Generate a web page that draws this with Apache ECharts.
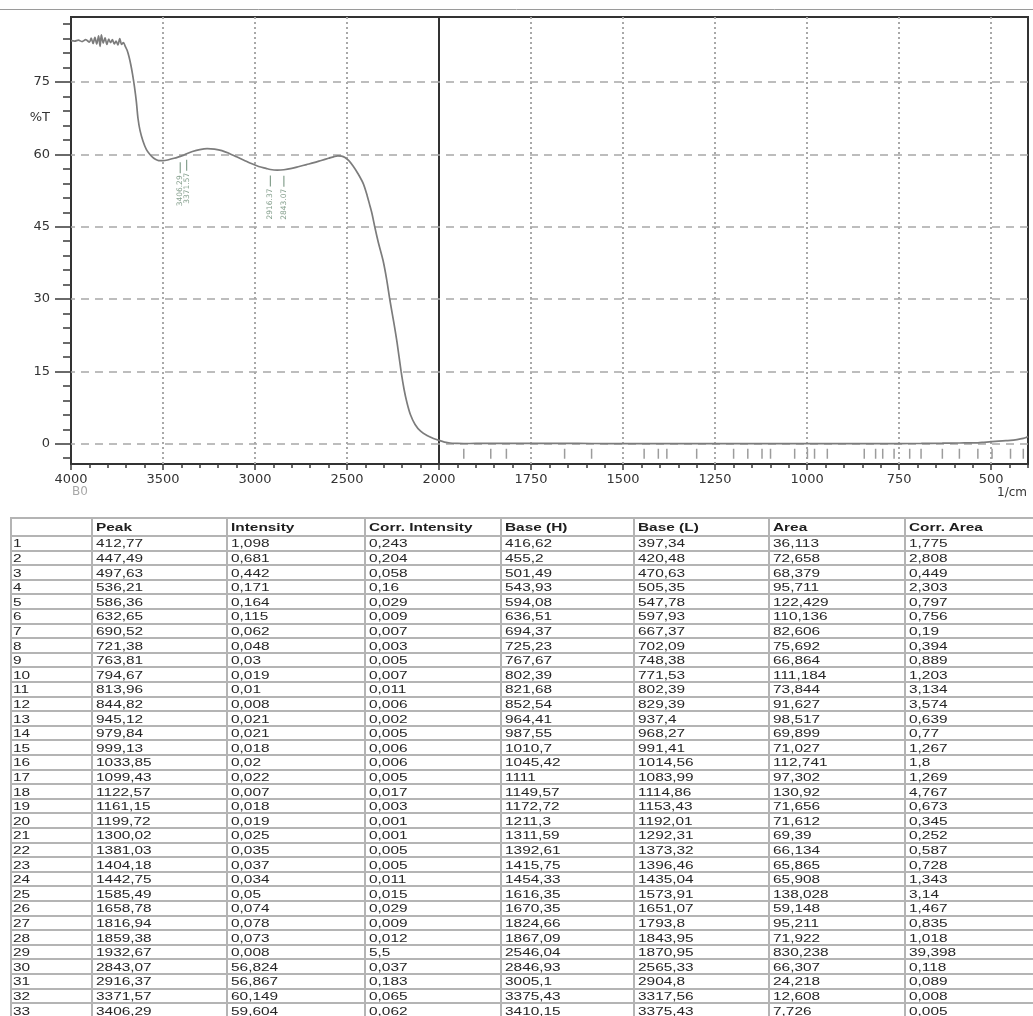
<!DOCTYPE html>
<html><head><meta charset="utf-8">
<script src="https://cdn.jsdelivr.net/npm/echarts@6/dist/echarts.min.js"></script>
<style>
html,body{margin:0;padding:0;background:#fff;width:1033px;height:1016px;overflow:hidden;position:relative;font-family:'Liberation Sans',Arial,sans-serif;}
#chart{position:absolute;left:0;top:0;width:1033px;height:512px;}
#tbl{position:absolute;left:0;top:0;width:1033px;height:1016px;pointer-events:none;}
.hl{position:absolute;height:2px;background:#b4b4b4;}
.vl{position:absolute;width:2px;background:#b4b4b4;}
.cell{position:absolute;font-size:11px;color:#262626;white-space:nowrap;line-height:14px;height:14px;transform:scaleX(1.4);transform-origin:0 50%;}
.hd{font-weight:bold;color:#1e1e1e;}
</style></head>
<body>
<div id="chart"></div>
<div id="tbl"></div>
<script>
// ---------- spectrum ----------
const leftWavenumber = [4000,3980,3960,3940,3920,3900,3890,3880,3870,3860,3850,3842,3835,3825,3815,3805,3795,3785,3775,3765,3755,3745,3735,3725,3715,3705,3695,3685,3675,3665,3655,3645,3636,3625,3609,3590,3571,3550,3530,3516,3500,3470,3440,3406.29,3390,3371.57,3340,3300,3260,3220,3180,3140,3100,3060,3020,2980,2940,2916.37,2880,2843.07,2800,2760,2720,2680,2640,2600,2570,2550,2530,2511,2490,2467,2440,2411,2390,2375,2364,2348,2330,2304,2285,2266,2245,2228,2206,2190,2174,2155,2130,2100,2065,2030,2000];
const leftTransmittance = [83.6,83.5,83.7,83.4,83.8,83.3,84.1,83.0,84.3,82.9,84.6,82.4,84.8,83.1,84.2,82.8,83.9,83.2,83.8,82.9,83.5,82.7,84.0,82.8,83.2,82.4,81.6,80.3,78.6,76.5,74.0,71.0,67.5,65.0,62.8,61.0,60.0,59.2,58.8,58.7,58.7,58.9,59.2,59.6,59.8,60.15,60.6,61.0,61.2,61.1,60.8,60.2,59.5,58.8,58.1,57.5,57.1,56.87,56.75,56.82,57.1,57.5,57.9,58.3,58.75,59.2,59.55,59.7,59.65,59.35,58.7,57.6,56.0,53.9,51.4,49.3,47.7,44.8,41.8,38.0,34.2,29.6,25.0,21.0,15.0,11.3,8.5,6.0,4.0,2.6,1.7,1.1,0.7];
const rightWavenumber = [2000,1985,1970,1950,1932.67,1900,1860,1817,1750,1659,1585,1500,1443,1404,1381,1300,1200,1161,1100,1034,999,980,945,900,845,814,795,764,721,690,633,586,560,536,520,505,497.6,480,460,447.5,430,412.8,405,400];
const rightTransmittance = [0.7,0.35,0.15,0.08,0.05,0.06,0.07,0.08,0.07,0.07,0.05,0.04,0.035,0.037,0.035,0.025,0.02,0.018,0.02,0.02,0.018,0.021,0.021,0.015,0.01,0.01,0.02,0.03,0.05,0.06,0.11,0.16,0.17,0.2,0.3,0.4,0.44,0.55,0.65,0.68,0.85,1.1,1.3,1.5];

// ---------- peak table ----------
const peak = [412.77,447.49,497.63,536.21,586.36,632.65,690.52,721.38,763.81,794.67,813.96,844.82,945.12,979.84,999.13,1033.85,1099.43,1122.57,1161.15,1199.72,1300.02,1381.03,1404.18,1442.75,1585.49,1658.78,1816.94,1859.38,1932.67,2843.07,2916.37,3371.57,3406.29];
const intensity = [1.098,0.681,0.442,0.171,0.164,0.115,0.062,0.048,0.03,0.019,0.01,0.008,0.021,0.021,0.018,0.02,0.022,0.007,0.018,0.019,0.025,0.035,0.037,0.034,0.05,0.074,0.078,0.073,0.008,56.824,56.867,60.149,59.604];
const corrIntensity = [0.243,0.204,0.058,0.16,0.029,0.009,0.007,0.003,0.005,0.007,0.011,0.006,0.002,0.005,0.006,0.006,0.005,0.017,0.003,0.001,0.001,0.005,0.005,0.011,0.015,0.029,0.009,0.012,5.5,0.037,0.183,0.065,0.062];
const baseH = [416.62,455.2,501.49,543.93,594.08,636.51,694.37,725.23,767.67,802.39,821.68,852.54,964.41,987.55,1010.7,1045.42,1111,1149.57,1172.72,1211.3,1311.59,1392.61,1415.75,1454.33,1616.35,1670.35,1824.66,1867.09,2546.04,2846.93,3005.1,3375.43,3410.15];
const baseL = [397.34,420.48,470.63,505.35,547.78,597.93,667.37,702.09,748.38,771.53,802.39,829.39,937.4,968.27,991.41,1014.56,1083.99,1114.86,1153.43,1192.01,1292.31,1373.32,1396.46,1435.04,1573.91,1651.07,1793.8,1843.95,1870.95,2565.33,2904.8,3317.56,3375.43];
const area = [36.113,72.658,68.379,95.711,122.429,110.136,82.606,75.692,66.864,111.184,73.844,91.627,98.517,69.899,71.027,112.741,97.302,130.92,71.656,71.612,69.39,66.134,65.865,65.908,138.028,59.148,95.211,71.922,830.238,66.307,24.218,12.608,7.726];
const corrArea = [1.775,2.808,0.449,2.303,0.797,0.756,0.19,0.394,0.889,1.203,3.134,3.574,0.639,0.77,1.267,1.8,1.269,4.767,0.673,0.345,0.252,0.587,0.728,1.343,3.14,1.467,0.835,1.018,39.398,0.118,0.089,0.008,0.005];
const tableHeaders = ['', 'Peak', 'Intensity', 'Corr. Intensity', 'Base (H)', 'Base (L)', 'Area', 'Corr. Area'];

// ---------- tick labels ----------
const yMajor = [0,15,30,45,60,75];
const yMinor = [-3,3,6,9,12,18,21,24,27,33,36,39,42,48,51,54,57,63,66,69,72,78,81,84,87];
const xRightMajor = [2000,1750,1500,1250,1000,750,500];
const xRightLabels = [1750,1500,1250,1000,750,500];
const xLeftGrid = [3500,3000,2500];
const xRightGrid = [1750,1500,1250,1000,750,500];

const pair = (xs, ys) => xs.map((x, i) => [x, ys[i]]);
const peakPts = peak.map((p, i) => [p, intensity[i]]);
const leftPeaks = peakPts.filter(d => d[0] > 2000);
const rightPeaks = peakPts.filter(d => d[0] < 2000);

const plain = v => String(v);
const font = {fontFamily:'DejaVu Sans', fontSize:13, color:'#333', formatter:plain};
const tickStyle = {color:'#3a3a3a', width:1.5};
const axisLineStyle = {color:'#333', width:2};
const hDash = {color:'#a8a8a8', width:1.5, type:[8,6]};
const vDot = {color:'#a8a8a8', width:2, type:[2,3]};
const peakColor = '#86a08e';

function gridLines(ys, xs) {
  return {
    silent:true, symbol:['none','none'], z:1, animation:false,
    label:{show:false}, emphasis:{disabled:true},
    data: ys.map(v => ({yAxis:v, lineStyle:hDash})).concat(xs.map(v => ({xAxis:v, lineStyle:vDot})))
  };
}

const chart = echarts.init(document.getElementById('chart'), null, {renderer:'canvas'});
chart.setOption({
  animation:false,
  backgroundColor:'#fff',
  grid:[
    {left:71, top:17, width:368, height:447, show:true, borderColor:'#333', borderWidth:2, backgroundColor:'transparent', outerBoundsMode:'none', containLabel:false},
    {left:439, top:17, width:589, height:447, show:true, borderColor:'#333', borderWidth:2, backgroundColor:'transparent', outerBoundsMode:'none', containLabel:false}
  ],
  xAxis:[
    {gridIndex:0, type:'value', min:2000, max:4000, inverse:true, interval:500, position:'bottom',
      axisLine:{show:true, onZero:false, lineStyle:axisLineStyle},
      axisTick:{show:true, length:6, lineStyle:tickStyle},
      minorTick:{show:true, splitNumber:5, length:4, lineStyle:tickStyle},
      axisLabel:Object.assign({margin:9, showMinLabel:true, showMaxLabel:true, hideOverlap:false}, font),
      splitLine:{show:false}, minorSplitLine:{show:false}},
    {gridIndex:1, type:'value', min:400, max:2000, inverse:true, position:'bottom',
      axisLine:{show:true, onZero:false, lineStyle:axisLineStyle},
      axisTick:{show:true, length:6, customValues:xRightMajor, lineStyle:tickStyle},
      axisLabel:Object.assign({margin:9, customValues:xRightLabels, hideOverlap:false}, font),
      splitLine:{show:false}},
    {gridIndex:1, type:'value', min:400, max:2000, inverse:true, position:'bottom', interval:50,
      axisLine:{show:false, onZero:false},
      axisTick:{show:true, length:4, lineStyle:tickStyle},
      axisLabel:{show:false}, splitLine:{show:false}}
  ],
  yAxis:[
    {gridIndex:0, type:'value', min:-4.2, max:88.5, position:'left',
      axisLine:{show:true, onZero:false, lineStyle:axisLineStyle},
      axisTick:{show:true, length:16, customValues:yMajor, lineStyle:tickStyle},
      axisLabel:Object.assign({margin:21, customValues:yMajor, hideOverlap:false}, font),
      splitLine:{show:false}},
    {gridIndex:0, type:'value', min:-4.2, max:88.5, position:'left',
      axisLine:{show:false, onZero:false},
      axisTick:{show:true, length:8, customValues:yMinor, lineStyle:tickStyle},
      axisLabel:{show:false}, splitLine:{show:false}},
    {gridIndex:1, type:'value', min:-4.2, max:88.5, position:'left', show:false,
      axisLine:{onZero:false}, splitLine:{show:false}}
  ],
  series:[
    {type:'line', xAxisIndex:0, yAxisIndex:0, data:pair(leftWavenumber, leftTransmittance),
      showSymbol:false, symbol:'none', smooth:0.3, z:3,
      lineStyle:{color:'#7c7c7c', width:1.7}, markLine:gridLines(yMajor, xLeftGrid)},
    {type:'line', xAxisIndex:1, yAxisIndex:2, data:pair(rightWavenumber, rightTransmittance),
      showSymbol:false, symbol:'none', smooth:0.3, z:3,
      lineStyle:{color:'#7c7c7c', width:1.7}, markLine:gridLines(yMajor, xRightGrid)},
    {type:'custom', xAxisIndex:0, yAxisIndex:0, data:leftPeaks, z:4, silent:true,
      renderItem:function(params, api){
        const p = api.coord([api.value(0), api.value(1)]);
        return {type:'group', children:[
          {type:'line', shape:{x1:p[0], y1:p[1]+6, x2:p[0], y2:p[1]+17}, style:{stroke:peakColor, lineWidth:1.2}},
          {type:'text', x:p[0], y:p[1]+19, rotation:Math.PI/2,
            style:{text:api.value(0).toFixed(2), fontSize:7.5, fontFamily:'DejaVu Sans', fill:peakColor, align:'right', verticalAlign:'middle'}}
        ]};
      }},
    {type:'custom', xAxisIndex:1, yAxisIndex:2, data:rightPeaks, z:4, silent:true,
      renderItem:function(params, api){
        const p = api.coord([api.value(0), 0]);
        return {type:'line', shape:{x1:p[0], y1:p[1]+5, x2:p[0], y2:p[1]+15}, style:{stroke:'#9c9c9c', lineWidth:1.5}};
      }}
  ],
  graphic:[
    {type:'line', shape:{x1:0, y1:9.5, x2:1033, y2:9.5}, style:{stroke:'#9a9a9a', lineWidth:1}},
    {type:'text', x:50, y:118, style:{text:'%T', fontFamily:'DejaVu Sans', fontSize:13, fill:'#333', align:'right', verticalAlign:'middle'}},
    {type:'text', x:72, y:492, style:{text:'B0', fontFamily:'DejaVu Sans', fontSize:12, fill:'#a8a8a8', align:'left', verticalAlign:'middle'}},
    {type:'text', x:1027, y:493, style:{text:'1/cm', fontFamily:'DejaVu Sans', fontSize:12, fill:'#333', align:'right', verticalAlign:'middle'}}
  ]
});

// ---------- table ----------
const fmt = v => String(v).replace('.', ',');
const colX = [11, 92, 227, 365, 501, 634, 769, 905, 1040];
const headTop = 518, headBottom = 536, rowH = 14.6;
const tbl = document.getElementById('tbl');
function add(cls, css, text) {
  const d = document.createElement('div');
  d.className = cls;
  Object.assign(d.style, css);
  if (text != null) d.textContent = text;
  tbl.appendChild(d);
}
const nRows = peak.length;
const lastY = headBottom + nRows * rowH;
add('hl', {left:colX[0]+'px', top:(headTop-1)+'px', width:(colX[8]-colX[0])+'px'});
add('hl', {left:colX[0]+'px', top:(headBottom-1)+'px', width:(colX[8]-colX[0])+'px'});
for (let r = 1; r <= nRows; r++) {
  add('hl', {left:colX[0]+'px', top:(headBottom + r*rowH - 1)+'px', width:(colX[8]-colX[0])+'px'});
}
colX.forEach(x => add('vl', {left:(x-1)+'px', top:(headTop-1)+'px', height:(lastY-headTop+2)+'px'}));
tableHeaders.forEach((h, c) => {
  add('cell hd', {left:(colX[c]+4)+'px', top:((headTop+headBottom)/2-7)+'px'}, h);
});
const cols = [null, peak, intensity, corrIntensity, baseH, baseL, area, corrArea];
for (let r = 0; r < nRows; r++) {
  const cy = headBottom + (r+0.5)*rowH;
  for (let c = 0; c < 8; c++) {
    const txt = c === 0 ? String(r+1) : fmt(cols[c][r]);
    add('cell', {left:(colX[c]+(c===0?2:4))+'px', top:(cy-7)+'px'}, txt);
  }
}
</script>
</body></html>
